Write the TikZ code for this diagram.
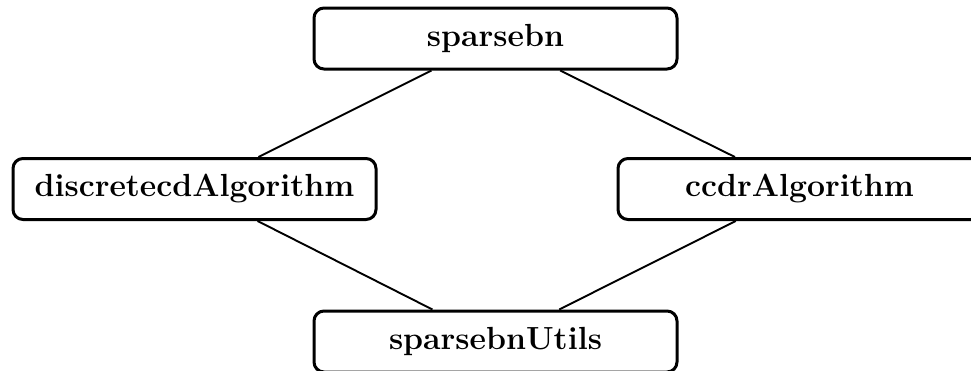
\documentclass[tikz,border=0pt]{standalone}
\usepackage{fontspec}
\begin{document}
\begin{tikzpicture}[x=1pt,y=-1pt,
  pkg/.style={draw, line width=3pt, rounded corners=10pt, rectangle,
    minimum width=363pt, minimum height=61pt, inner sep=0pt,
    font=\fontsize{32}{38}\selectfont\bfseries},
  dep/.style={line width=1.9pt}]
  \useasboundingbox (0,0) rectangle (971,370);
  \clip (0,0) rectangle (971,370);
  % package nodes
  \node[pkg] (sparsebn) at (495.5,38.5) {sparsebn};
  \node[pkg] (discretecd) at (194.5,189) {discretecdAlgorithm};
  \node[pkg] (ccdr) at (799.5,189) {ccdrAlgorithm};
  \node[pkg] (utils) at (495.5,341.5) {sparsebnUtils};
  % dependency links
  \draw[dep] (sparsebn) -- (discretecd);
  \draw[dep] (sparsebn) -- (ccdr);
  \draw[dep] (discretecd) -- (utils);
  \draw[dep] (ccdr) -- (utils);
\end{tikzpicture}
\end{document}
